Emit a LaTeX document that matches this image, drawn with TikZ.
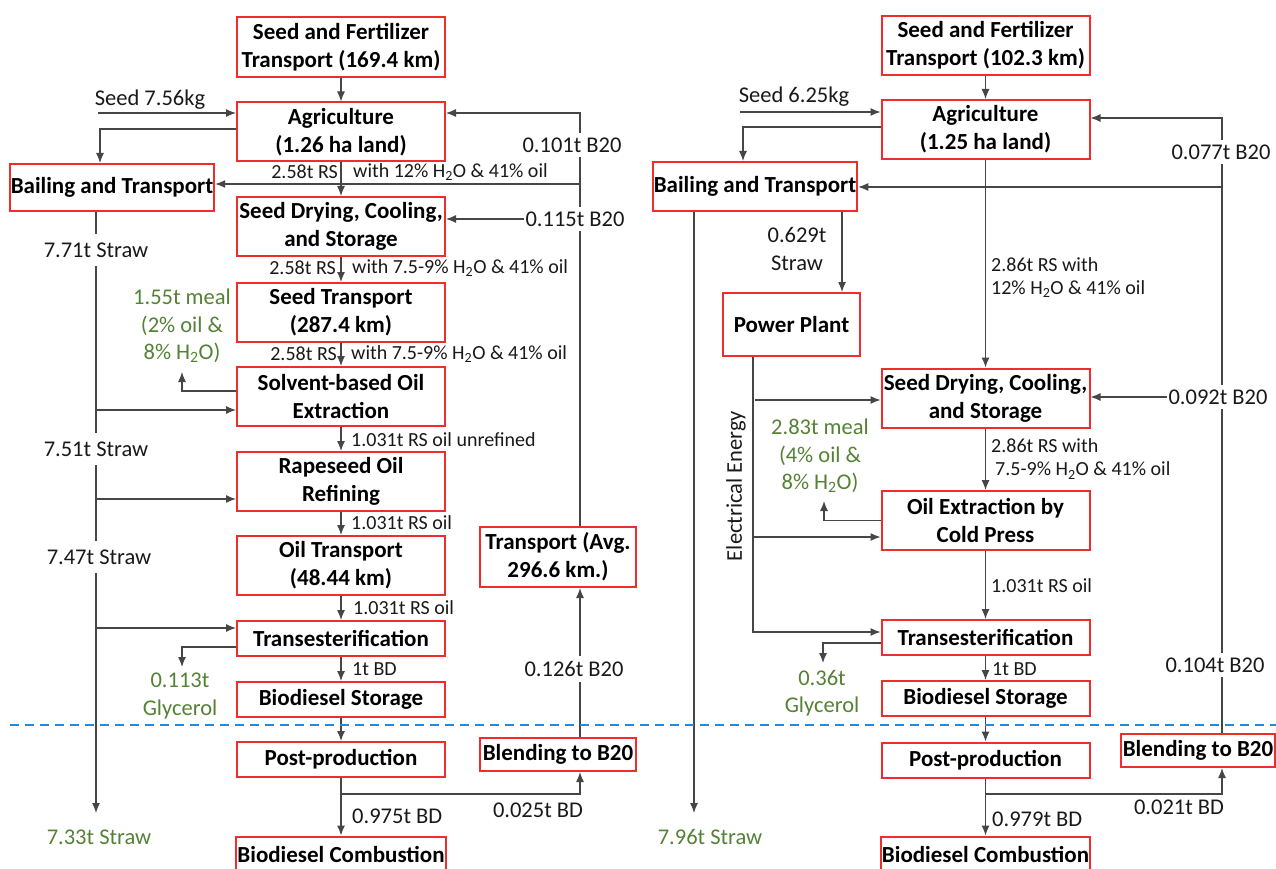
\documentclass[tikz,border=0pt]{standalone}
\usepackage{fontspec}
\setmainfont{Carlito}
\usepackage{tikz}
\usetikzlibrary{arrows.meta,positioning,calc}
\definecolor{boxred}{RGB}{240,45,45}
\definecolor{linegray}{RGB}{70,70,70}
\definecolor{leafgreen}{RGB}{84,130,53}
\definecolor{cutblue}{RGB}{28,140,228}
\definecolor{txtgray}{RGB}{25,25,25}
\tikzstyle{stage}=[draw=boxred,line width=2pt,fill=white,align=center,inner sep=1pt,font=\bfseries\fontsize{23}{28}\selectfont]
\tikzstyle{tall}=[stage,minimum width=208pt,minimum height=59pt]
\tikzstyle{flat}=[stage,minimum width=208pt,minimum height=35pt]
\tikzstyle{amount}=[font=\fontsize{22.5}{27.5}\selectfont,text=txtgray,inner sep=1pt,align=center]
\tikzstyle{online}=[amount,outer ysep=4pt]
\tikzstyle{strawlbl}=[amount,outer ysep=8pt]
\tikzstyle{stream}=[font=\fontsize{20}{23}\selectfont,text=txtgray,inner sep=1pt,align=left]
\tikzstyle{coproduct}=[amount,text=leafgreen]
\tikzstyle{flow}=[draw=linegray,line width=1.2pt,-{Latex[length=10pt,width=8pt]}]
\tikzstyle{wire}=[draw=linegray,line width=1.2pt]
\tikzstyle{cut}=[draw=cutblue,line width=2.4pt,dash pattern=on 9pt off 6pt]
\begin{document}
\begin{tikzpicture}[x=1pt,y=-1pt]
  \useasboundingbox (0,0) rectangle (1276,869);
  \clip (0,0) rectangle (1276,869);

  \node[tall,minimum height=60pt] (sf1) at (341,47.5) {Seed and Fertilizer\\Transport (169.4 km)};
  \node[tall] (agri1) at (341,132) {Agriculture\\(1.26 ha land)};
  \node[tall] (dry1) at (341,226.5) {Seed Drying, Cooling,\\and Storage};
  \node[tall] (strans1) at (341,312.5) {Seed Transport\\(287.4 km)};
  \node[tall] (solv1) at (341,396.5) {Solvent-based Oil\\Extraction};
  \node[tall] (refine1) at (341,481.5) {Rapeseed Oil\\Refining};
  \node[tall] (otrans1) at (341,565.5) {Oil Transport\\(48.44 km)};
  \node[flat] (trans1) at (341,638.5) {Transesterification};
  \node[flat] (store1) at (341,699.5) {Biodiesel Storage};
  \node[flat] (post1) at (341,759.5) {Post-production};
  \node[flat] (comb1) at (341,854) {Biodiesel Combustion};
  \node[stage,minimum width=204pt,minimum height=47pt] (bail1) at (112,187.5) {Bailing and Transport};
  \node[stage,minimum width=156pt,minimum height=60pt] (tavg1) at (558,557) {Transport (Avg.\\296.6 km.)};
  \node[stage,minimum width=156pt,minimum height=33pt] (blend1) at (558,754.5) {Blending to B20};

  \node[tall] (sf2) at (985.5,45.5) {Seed and Fertilizer\\Transport (102.3 km)};
  \node[tall] (agri2) at (985.5,129.5) {Agriculture\\(1.25 ha land)};
  \node[stage,minimum width=202pt,minimum height=49pt] (bail2) at (755,186.5) {Bailing and Transport};
  \node[stage,minimum width=137pt,minimum height=63pt] (pp) at (791.5,324.5) {Power Plant};
  \node[tall] (dry2) at (985.5,398) {Seed Drying, Cooling,\\and Storage};
  \node[tall] (oext) at (985.5,520.5) {Oil Extraction by\\Cold Press};
  \node[flat] (trans2) at (985.5,637.5) {Transesterification};
  \node[flat] (store2) at (985.5,698.5) {Biodiesel Storage};
  \node[flat] (post2) at (985.5,760) {Post-production};
  \node[flat] (comb2) at (985.5,854) {Biodiesel Combustion};
  \node[stage,minimum width=154pt,minimum height=33pt] (blend2) at (1198,750.5) {Blending to B20};

  \node[amount] (seed1) at (150,100) {Seed 7.56kg};
  \node[stream,anchor=east] (rs1a) at (339,172) {2.58t RS};
  \node[stream,anchor=west] (rs1b) at (352,172) {with 12\% H\textsubscript{2}O \& 41\% oil};
  \node[stream,anchor=east] (rs2a) at (337,268) {2.58t RS};
  \node[stream,anchor=west] (rs2b) at (351,268) {with 7.5-9\% H\textsubscript{2}O \& 41\% oil};
  \node[stream,anchor=east] (rs3a) at (338,354) {2.58t RS};
  \node[stream,anchor=west] (rs3b) at (350,354) {with 7.5-9\% H\textsubscript{2}O \& 41\% oil};
  \node[stream,anchor=west] (oil1) at (350,440) {1.031t RS oil unrefined};
  \node[stream,anchor=west] (oil2) at (350,523) {1.031t RS oil};
  \node[stream,anchor=west] (oil3) at (352,608) {1.031t RS oil};
  \node[stream,anchor=west] (bd1) at (351,669) {1t BD};
  \node[amount,anchor=west] (bd2) at (351,816) {0.975t BD};
  \node[amount] (bd6) at (538,810) {0.025t BD};
  \node[strawlbl] (st1) at (96,250) {7.71t Straw};
  \node[strawlbl] (st2) at (96,449) {7.51t Straw};
  \node[strawlbl] (st3) at (99,557) {7.47t Straw};
  \node[coproduct] (st4) at (99,837) {7.33t Straw};
  \node[online] (b1) at (572,145) {0.101t B20};
  \node[online] (b2) at (575,219) {0.115t B20};
  \node[online] (b3) at (574,669) {0.126t B20};
  \node[coproduct] (meal1) at (182,326) {1.55t meal\\(2\% oil \&\\8\% H\textsubscript{2}O)};
  \node[coproduct] (gly1) at (180,696) {0.113t\\Glycerol};

  \node[amount] (seed2) at (794,97) {Seed 6.25kg};
  \node[amount] (st5) at (797,249) {0.629t\\Straw};
  \node[coproduct] (st6) at (710,837) {7.96t Straw};
  \node[stream,anchor=west] (rs4) at (990,278) {2.86t RS with\\12\% H\textsubscript{2}O \& 41\% oil};
  \node[stream,anchor=west] (rs5) at (990,459) {2.86t RS with\\\hspace*{4pt}7.5-9\% H\textsubscript{2}O \& 41\% oil};
  \node[stream,anchor=west] (oil4) at (990,586) {1.031t RS oil};
  \node[stream,anchor=west] (bd3) at (991,669) {1t BD};
  \node[amount,anchor=west] (bd4) at (991,819) {0.979t BD};
  \node[amount] (bd5) at (1179,807) {0.021t BD};
  \node[online] (b4) at (1221,152) {0.077t B20};
  \node[online] (b5) at (1218,397) {0.092t B20};
  \node[online] (b6) at (1215,665) {0.104t B20};
  \node[coproduct] (meal2) at (820,456) {2.83t meal\\(4\% oil \&\\8\% H\textsubscript{2}O)};
  \node[coproduct] (gly2) at (822,693) {0.36t\\Glycerol};
  \node[amount,rotate=90] (elec) at (736,486) {Electrical Energy};

  \draw[flow] (sf1) -- (agri1);
  \draw[flow] (agri1) -- (dry1);
  \draw[flow] (dry1) -- (strans1);
  \draw[flow] (strans1) -- (solv1);
  \draw[flow] (solv1) -- (refine1);
  \draw[flow] (refine1) -- (otrans1);
  \draw[flow] (otrans1) -- (trans1);
  \draw[flow] (trans1) -- (store1);
  \draw[flow] (store1) -- (post1);
  \draw[flow] (post1) -- (comb1);
  \coordinate (sd1) at (98,113);
  \draw[flow] (sd1) -- (sd1 -| agri1.west);
  \draw[flow] ([yshift=3pt]agri1.west) -| ([xshift=-12pt]bail1.north);
  \coordinate (sw1) at ([xshift=-16pt]bail1.south);
  \coordinate (sw1e) at (96,813);
  \draw[wire] (sw1) -- (st1.north -| sw1);
  \draw[wire] (st1.south -| sw1) -- (st2.north -| sw1);
  \draw[wire] (st2.south -| sw1) -- (st3.north -| sw1);
  \draw[flow] (st3.south -| sw1) -- (sw1e);
  \coordinate (sb1) at (96,410);
  \coordinate (sb2) at (96,499);
  \coordinate (sb3) at (96,628);
  \draw[flow] (sb1) -- (sb1 -| solv1.west);
  \draw[flow] (sb2) -- (sb2 -| refine1.west);
  \draw[flow] (sb3) -- (sb3 -| trans1.west);
  \coordinate (m1) at (182,372);
  \draw[flow] ([yshift=5.5pt]solv1.west) -| (m1);
  \coordinate (g1) at (182,667);
  \draw[flow] ([yshift=-8.5pt]trans1.west) -| (g1);
  \coordinate (pb1) at (341,794);
  \draw[flow] (pb1) -| ([xshift=22pt]blend1.south);
  \coordinate (b20l) at ([xshift=22pt]blend1.north);
  \draw[wire] (b20l) -- (b3.south -| b20l);
  \draw[flow] (b3.north -| b20l) -- ([xshift=22pt]tavg1.south);
  \draw[wire] ([xshift=22pt]tavg1.north) -- (b2.south -| b20l);
  \draw[wire] (b2.north -| b20l) -- (b1.south -| b20l);
  \draw[flow] (b1.north -| b20l) |- ([yshift=19pt]agri1.east);
  \draw[flow] (b2.west) -- (b2.west -| dry1.east);
  \coordinate (b20lb) at (580,184);
  \draw[flow] (b20lb) -- (b20lb -| bail1.east);

  \draw[flow] (sf2) -- (agri2);
  \draw[flow] (agri2) -- (dry2);
  \draw[flow] (dry2) -- (oext);
  \draw[flow] (oext) -- (trans2);
  \draw[flow] (trans2) -- (store2);
  \draw[flow] (store2) -- (post2);
  \draw[flow] (post2) -- (comb2);
  \coordinate (sd2) at (740,112);
  \draw[flow] (sd2) -- (sd2 -| agri2.west);
  \draw[flow] ([yshift=2.5pt]agri2.west) -| ([xshift=-12pt]bail2.north);
  \draw[flow] ([xshift=87pt]bail2.south) -- ([xshift=50.5pt]pp.north);
  \coordinate (sw2) at ([xshift=-61pt]bail2.south);
  \coordinate (sw2e) at (694,813);
  \draw[flow] (sw2) -- (sw2e);
  \coordinate (el) at ([xshift=-38.5pt]pp.south);
  \draw[flow] (el) |- ([yshift=5.5pt]trans2.west);
  \coordinate (e1) at (755,400);
  \draw[flow] (e1) -- (e1 -| dry2.west);
  \coordinate (e2) at (753,537);
  \draw[flow] (e2) -- (e2 -| oext.west);
  \coordinate (m2) at (824,501);
  \draw[flow] (oext.west) -| (m2);
  \coordinate (g2) at (823,663);
  \draw[flow] ([yshift=-5.5pt]trans2.west) -| (g2);
  \coordinate (pb2) at (985.5,794);
  \draw[flow] (pb2) -| ([xshift=24pt]blend2.south);
  \coordinate (b20r) at ([xshift=24pt]blend2.north);
  \draw[wire] (b20r) -- (b6.south -| b20r);
  \draw[wire] (b6.north -| b20r) -- (b5.south -| b20r);
  \draw[wire] (b5.north -| b20r) -- (b4.south -| b20r);
  \draw[flow] (b4.north -| b20r) |- ([yshift=11.5pt]agri2.east);
  \draw[flow] (b5.west) -- (b5.west -| dry2.east);
  \coordinate (b20rb) at (1222,187);
  \draw[flow] (b20rb) -- (b20rb -| bail2.east);

  \draw[cut] (10,725) -- (1276,725);
\end{tikzpicture}
\end{document}
